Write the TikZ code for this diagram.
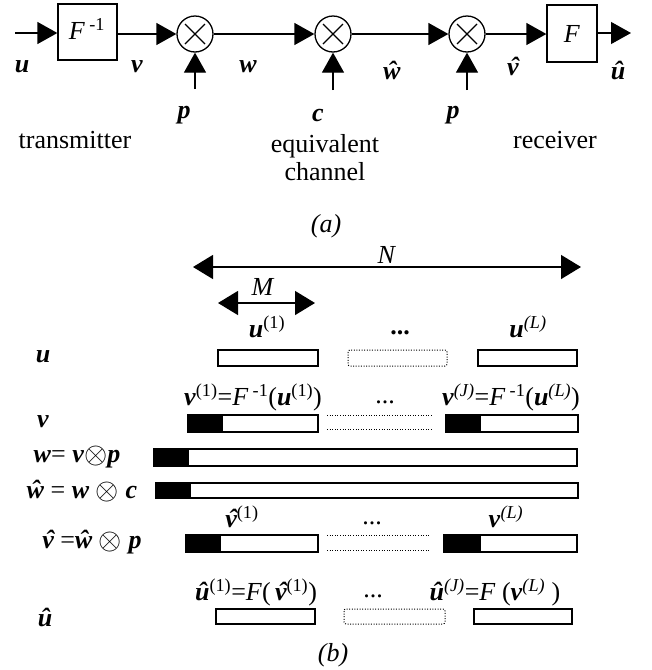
\documentclass[tikz,border=0pt]{standalone}
\usepackage{fontspec}
\usepackage{graphicx}
\setmainfont{Liberation Serif}
\usetikzlibrary{arrows.meta}

% bold italic vector symbols
\newcommand\bv[1]{\textbf{\textit{#1}}}
\newcommand\hatv{\textbf{\textit{\ooalign{v\cr\hidewidth\kern0.12em\char"02C6\hidewidth\cr}}}}
\newcommand\hatw{\textbf{\textit{ŵ}}}
\newcommand\hatu{\textbf{\textit{û}}}
\newcommand\sps[1]{\textsuperscript{#1}}
\newcommand\otm{\raisebox{-1pt}{\scalebox{1.2}{$\otimes$}}}

\begin{document}
\begin{tikzpicture}[x=1pt,y=-1pt,line width=1.3pt,
  font=\fontsize{26}{28}\selectfont,
  sig/.style={-{Triangle[length=20pt,width=22pt]}},
  dbl/.style={{Triangle[length=20pt,width=24pt]}-{Triangle[length=20pt,width=24pt]}},
  blk/.style={draw,inner sep=0pt},
  mult/.style={circle,draw,minimum size=36pt,inner sep=0pt,
    path picture={\draw ([shift={(-10pt,-10pt)}]path picture bounding box.center)
                     -- ([shift={(10pt,10pt)}]path picture bounding box.center)
                     ([shift={(-10pt,10pt)}]path picture bounding box.center)
                     -- ([shift={(10pt,-10pt)}]path picture bounding box.center);}},
  lab/.style={inner sep=0pt},
  seg/.style={draw,line width=1.2pt},
  fine dots/.style={line width=1pt,dash pattern=on 1pt off 1.6pt},
  dseg/.style={draw,fine dots,rounded corners=2pt}]
\useasboundingbox (0,0) rectangle (652,670);

% ---------------- (a) block diagram ----------------
\coordinate (in) at (15,33);
\node[blk,minimum width=59pt,minimum height=56pt] (Finv) at (87.5,32) {};
\node[lab] at (87,29) {\textit{F}\,\sps{-1}};
\node[mult] (m1) at (195,34) {};
\node[mult] (m2) at (333,34) {};
\node[mult] (m3) at (467,34) {};
\node[blk,minimum width=50pt,minimum height=57pt] (F) at (572,33.5) {\textit{F}};
\coordinate (out) at (631,33);
\coordinate (p1) at (195,89);
\coordinate (cc) at (333,90);
\coordinate (p3) at (467,90);

\draw[sig] (in) -- (Finv.west |- in);
\draw[sig] (Finv.east |- m1.west) -- (m1.west);
\draw[sig] (m1) -- (m2.west);
\draw[sig] (m2) -- (m3.west);
\draw[sig] (m3.east) -- (F.west |- m3.east);
\draw[sig] (F.east |- out) -- (out);
\draw[sig] (p1) -- (m1.south);
\draw[sig] (cc) -- (m2.south);
\draw[sig] (p3) -- (m3.south);

\node[lab] at (22,67) {\bv{u}};
\node[lab] at (137,67) {\bv{v}};
\node[lab] at (248,67) {\bv{w}};
\node[lab] at (392,70) {\hatw};
\node[lab] at (513,70) {\hatv};
\node[lab] at (618,70) {\hatu};
\node[lab] at (184,115) {\bv{p}};
\node[lab] at (318,115) {\bv{c}};
\node[lab] at (453,115) {\bv{p}};

\node[lab] at (75,140) {transmitter};
\node[lab,align=center] at (325,158) {equivalent\\channel};
\node[lab] at (555,140) {receiver};
\node[lab] at (326,226) {\textit{(a)}};

% ---------------- (b) block structure ----------------
\coordinate (nl) at (193,267);
\coordinate (nr) at (581,267);
\draw[dbl] (nl) -- (nr) node[midway,above=3pt,lab] {\textit{N}};
\coordinate (ml) at (218,303);
\coordinate (mr) at (315,303);
\draw[dbl] (ml) -- (mr);
\node[lab] at (263,287) {\textit{M}};

% row u
\node[lab] at (43,357) {\bv{u}};
\path[seg] (218,350) rectangle (318,366);
\path[dseg] (348,350) rectangle (447,366);
\path[seg] (478,350) rectangle (577,366);
\node[lab] at (267,327) {\bv{u}\sps{(1)}};
\node[lab] at (400,333) {\textbf{...}};
\node[lab] at (528,327) {\bv{u}\sps{\textit{(L)}}};

% row v
\node[lab] at (43,422) {\bv{v}};
\fill (188,415) rectangle (223,432);
\path[seg] (188,415) rectangle (318,432);
\draw[fine dots] (327,415) -- (432,415) (327,429) -- (432,429);
\fill (446,415) rectangle (481,432);
\path[seg] (446,415) rectangle (578,432);
\node[lab] at (253,397) {\bv{v}\sps{(1)}=\textit{F}\,\sps{-1}(\bv{u}\sps{(1)})};
\node[lab] at (385,402) {...};
\node[lab] at (511,397) {\bv{v}\sps{\textit{(J)}}=\textit{F}\,\sps{-1}(\bv{u}\sps{\textit{(L)}})};

% row w
\node[lab] at (77,457) {\bv{w}= \bv{v}\otm\bv{p}};
\fill (154,449) rectangle (189,466);
\path[seg] (154,449) rectangle (577,466);

% row w hat
\node[lab] at (82,491) {\hatw{} = \bv{w} \otm{} \bv{c}};
\fill (156,483) rectangle (191,498);
\path[seg] (156,483) rectangle (578,498);

% row v hat
\node[lab] at (92,542) {\hatv{} =\hatw{} \otm{} \bv{p}};
\fill (186,535) rectangle (221,552);
\path[seg] (186,535) rectangle (318,552);
\draw[fine dots] (327,535) -- (430,535) (327,550) -- (430,550);
\fill (444,535) rectangle (481,552);
\path[seg] (444,535) rectangle (577,552);
\node[lab] at (242,517) {\hatv\sps{(1)}};
\node[lab] at (372,523) {...};
\node[lab] at (506,517) {\bv{v}\sps{\textit{(L)}}};

% row u hat
\node[lab] at (45,617) {\hatu};
\path[seg] (216,609) rectangle (315,624);
\path[dseg] (344,609) rectangle (445,624);
\path[seg] (474,609) rectangle (572,624);
\node[lab] at (256,592) {\hatu\sps{(1)}=\textit{F}(\,\hatv\sps{(1)})};
\node[lab] at (373,596) {...};
\node[lab] at (495,592) {\hatu\sps{\textit{(J)}}=\textit{F} (\bv{v}\sps{\textit{(L)}} )};

\node[lab] at (333,655) {\textit{(b)}};
\end{tikzpicture}
\end{document}
